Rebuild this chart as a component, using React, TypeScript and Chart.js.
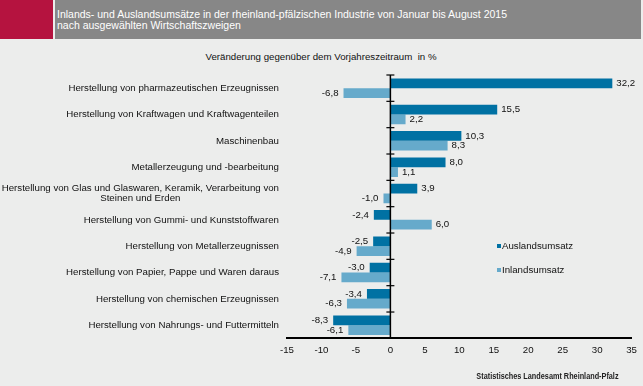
import React, { useEffect, useRef } from "react";
import { Chart, registerables } from "chart.js";

Chart.register(...registerables);

const titleLines = [
  "Inlands- und Auslandsumsätze in der rheinland-pfälzischen Industrie von Januar bis August 2015",
  "nach ausgewählten Wirtschaftszweigen",
];
const subtitle = "Veränderung gegenüber dem Vorjahreszeitraum  in %";
const source = "Statistisches Landesamt Rheinland-Pfalz";

const categories: (string | string[])[] = [
  "Herstellung von pharmazeutischen Erzeugnissen",
  "Herstellung von Kraftwagen und Kraftwagenteilen",
  "Maschinenbau",
  "Metallerzeugung und -bearbeitung",
  ["Herstellung von Glas und Glaswaren, Keramik, Verarbeitung von", "Steinen und Erden"],
  "Herstellung von Gummi- und Kunststoffwaren",
  "Herstellung von Metallerzeugnissen",
  "Herstellung von Papier, Pappe und Waren daraus",
  "Herstellung von chemischen Erzeugnissen",
  "Herstellung von Nahrungs- und Futtermitteln",
];
const auslandsumsatz = [32.2, 15.5, 10.3, 8.0, 3.9, -2.4, -2.5, -3.0, -3.4, -8.3];
const inlandsumsatz = [-6.8, 2.2, 8.3, 1.1, -1.0, 6.0, -4.9, -7.1, -6.3, -6.1];
const seriesNames = ["Auslandsumsatz", "Inlandsumsatz"];
const xMin = -15;
const xMax = 35;
const xStep = 5;

const DARK = "#0071a3";
const LIGHT = "#66aacb";
const FONT = "'Liberation Sans', Arial, sans-serif";
const TEXT = "#111";
const LABEL_SIZE = 9.7;

const fmt = (v: number) => v.toFixed(1).replace(".", ",");

const overlayPlugin = {
  id: "overlay",
  afterDatasetsDraw(chart: any) {
    const ctx = chart.ctx as CanvasRenderingContext2D;
    const xs = chart.scales.x;
    const ys = chart.scales.y;
    const area = chart.chartArea;
    const x0 = xs.getPixelForValue(0);
    ctx.save();
    ctx.strokeStyle = "#000";
    ctx.lineWidth = 1.5;
    ctx.beginPath();
    ctx.moveTo(x0, area.top);
    ctx.lineTo(x0, area.bottom);
    ctx.stroke();
    const n = categories.length;
    const slot = n > 1 ? ys.getPixelForValue(1) - ys.getPixelForValue(0) : area.bottom - area.top;
    ctx.lineWidth = 1.2;
    for (let i = 0; i < n; i++) {
      const y = ys.getPixelForValue(i) - slot / 2;
      ctx.beginPath();
      ctx.moveTo(x0 - 4, y);
      ctx.lineTo(x0 + 4, y);
      ctx.stroke();
    }
    ctx.font = `${LABEL_SIZE}px ${FONT}`;
    ctx.fillStyle = TEXT;
    ctx.textBaseline = "middle";
    chart.data.datasets.forEach((ds: any, di: number) => {
      const meta = chart.getDatasetMeta(di);
      meta.data.forEach((el: any, i: number) => {
        const v = ds.data[i] as number;
        if (v >= 0) {
          ctx.textAlign = "left";
          ctx.fillText(fmt(v), el.x + 4, el.y);
        } else {
          ctx.textAlign = "right";
          ctx.fillText(fmt(v), el.x - 5, el.y);
        }
      });
    });
    const right = area.left - 8;
    const lineH = 10;
    categories.forEach((lab, i) => {
      const lines = Array.isArray(lab) ? lab : [lab];
      const maxW = Math.max(...lines.map((l) => ctx.measureText(l).width));
      const cx = right - maxW / 2;
      const cy = ys.getPixelForValue(i);
      const startY = cy - ((lines.length - 1) * lineH) / 2;
      ctx.textAlign = "center";
      lines.forEach((l, k) => ctx.fillText(l, cx, startY + k * lineH));
    });
    ctx.restore();
  },
};

export default function App() {
  const ref = useRef<HTMLCanvasElement | null>(null);
  useEffect(() => {
    if (!ref.current) return;
    const chart = new Chart(ref.current, {
      type: "bar",
      data: {
        labels: categories as any,
        datasets: [
          {
            label: seriesNames[0],
            data: auslandsumsatz,
            backgroundColor: DARK,
            borderWidth: 0,
            categoryPercentage: 0.74,
            barPercentage: 1.0,
          },
          {
            label: seriesNames[1],
            data: inlandsumsatz,
            backgroundColor: LIGHT,
            borderWidth: 0,
            categoryPercentage: 0.74,
            barPercentage: 1.0,
          },
        ],
      },
      options: {
        indexAxis: "y",
        responsive: false,
        animation: false,
        devicePixelRatio: 1,
        layout: { padding: { left: 287, right: 10.5, top: 75, bottom: 24 } },
        plugins: { legend: { display: false }, tooltip: { enabled: false } },
        scales: {
          x: {
            min: xMin,
            max: xMax,
            grid: { display: false, drawTicks: false },
            border: { display: true, color: "#000", width: 2 },
            ticks: {
              stepSize: xStep,
              padding: 6,
              color: TEXT,
              font: { family: FONT, size: LABEL_SIZE },
            },
          },
          y: {
            display: false,
            grid: { display: false },
          },
        },
      },
      plugins: [overlayPlugin],
    });
    return () => chart.destroy();
  }, []);

  const base: React.CSSProperties = {
    position: "absolute",
    fontFamily: FONT,
    whiteSpace: "pre",
  };
  return (
    <div
      style={{
        position: "absolute",
        left: 0,
        top: 0,
        width: 643,
        height: 386,
        background: "#ecedec",
        overflow: "hidden",
      }}
    >
      <div style={{ position: "absolute", left: 0, top: 0, width: 53, height: 39, background: "#b5133f" }} />
      <div style={{ position: "absolute", left: 55, top: 0, width: 586, height: 39, background: "#878787" }} />
      <div style={{ ...base, left: 57, top: 8.5, fontSize: 10.5, lineHeight: "11px", color: "#fff" }}>
        {titleLines.join("\n")}
      </div>
      <div style={{ ...base, left: 0, width: 642, top: 51, fontSize: 9.7, lineHeight: "12px", color: TEXT, textAlign: "center" }}>
        {subtitle}
      </div>
      <canvas ref={ref} width={643} height={386} style={{ position: "absolute", left: 0, top: 0 }} />
      <div style={{ position: "absolute", left: 497, top: 244, width: 4, height: 4, background: DARK }} />
      <div style={{ ...base, left: 502, top: 240, fontSize: LABEL_SIZE, lineHeight: "12px", color: TEXT }}>{seriesNames[0]}</div>
      <div style={{ position: "absolute", left: 497, top: 268, width: 4, height: 4, background: LIGHT }} />
      <div style={{ ...base, left: 502, top: 264, fontSize: LABEL_SIZE, lineHeight: "12px", color: TEXT }}>{seriesNames[1]}</div>
      <div
        style={{
          ...base,
          right: 24,
          top: 371,
          fontSize: 9,
          lineHeight: "11px",
          color: "#222",
          fontWeight: "bold",
          transform: "scaleX(0.81)",
          transformOrigin: "right center",
        }}
      >
        {source}
      </div>
    </div>
  );
}
